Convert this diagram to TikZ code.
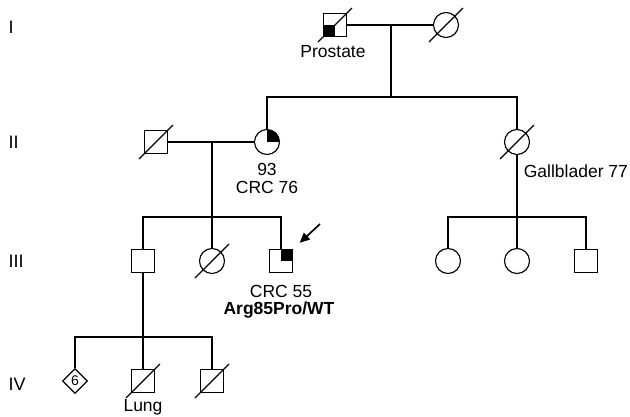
\documentclass[tikz,border=0pt]{standalone}
\usepackage{fontspec}
\setmainfont{Liberation Sans}
\usepackage{tikz}
\usetikzlibrary{arrows.meta,shapes.geometric,positioning}

\tikzset{
  male/.style={draw,rectangle,minimum size=23pt,inner sep=0pt},
  female/.style={draw,circle,minimum size=25pt,inner sep=0pt},
  sexunk/.style={draw,diamond,minimum size=25pt,inner sep=0pt,font=\fontsize{14}{14}\selectfont},
  affur/.style={path picture={\fill (path picture bounding box.center) rectangle (path picture bounding box.north east);}},
  affll/.style={path picture={\fill (path picture bounding box.center) rectangle (path picture bounding box.south west);}},
  lbl/.style={anchor=base,inner sep=0pt,font=\fontsize{17.5}{20}\selectfont},
  gen/.style={anchor=base west,inner sep=0pt,font=\fontsize{18}{20}\selectfont},
}

\begin{document}
\begin{tikzpicture}[x=1pt,y=-1pt,line width=1.15pt]
  \useasboundingbox (0,0) rectangle (630,416);

  % generation numbers
  \foreach \g/\y in {I/33,II/148,III/267,IV/390}
    { \node[gen] (gen\g) at (8,\y) {\g}; }

  % generation I
  \node[male,affll] (i1) at (335,25) {};
  \node[female] (i2) at (446,25) {};
  \node[lbl] (prostate) at (333,57) {Prostate};

  % generation II
  \node[male] (ii1) at (156,142) {};
  \node[female,affur] (ii2) at (267,142) {};
  \node[female] (ii4) at (517,142) {};
  \node[lbl] (age93) at (267,175) {93};
  \node[lbl] (crc76) at (267,193) {CRC 76};
  \node[lbl,anchor=base east] (gallb) at (628.5,177) {Gallblader 77};

  % generation III
  \node[male] (iii1) at (143,261) {};
  \node[female] (iii2) at (212,261) {};
  \node[male,affur] (iii3) at (281,261) {};
  \node[female] (iii4) at (448,261) {};
  \node[female] (iii5) at (517,261) {};
  \node[male] (iii6) at (586,261) {};
  \node[lbl] (crc55) at (281,297) {CRC 55};
  \node[lbl] (geno) at (279,314) {\bfseries Arg85Pro/WT};

  % generation IV
  \node[sexunk] (iv1) at (75,381) {6};
  \node[male] (iv2) at (143,381) {};
  \node[male] (iv3) at (212,381) {};
  \node[lbl] (lung) at (143,411) {Lung};

  % deceased
  \foreach \n in {i1,i2,ii1,ii4,iii2,iv2,iv3}
    { \draw (\n.center) ++(-17,17) -- ++(34,-34); }

  % lines of descent
  \coordinate (m1) at (391,25);
  \coordinate (s1) at (391,97);
  \coordinate (m2) at (212,142);
  \coordinate (s2) at (212,217);
  \coordinate (s3) at (517,217);
  \coordinate (s4) at (143,337);

  \draw (i1) -- (i2);
  \draw (m1) -- (s1);
  \draw (ii2.north) |- (s1) -| (ii4.north);

  \draw (ii1) -- (ii2);
  \draw (m2) -- (s2);
  \draw (iii1.north) |- (s2) -| (iii3.north);
  \draw (s2) -- (iii2.north);

  \draw (ii4.south) -- (s3);
  \draw (iii4.north) |- (s3) -| (iii6.north);
  \draw (s3) -- (iii5.north);

  \draw (iii1.south) -- (iv2.north);
  \draw (iv1.north) |- (s4) -| (iv3.north);

  % proband
  \coordinate (arrtail) at (320,224);
  \draw[line width=1.7pt,-{Triangle[length=10pt,width=9pt]},shorten >=9pt] (arrtail) -- (iii3.north east);
\end{tikzpicture}
\end{document}
